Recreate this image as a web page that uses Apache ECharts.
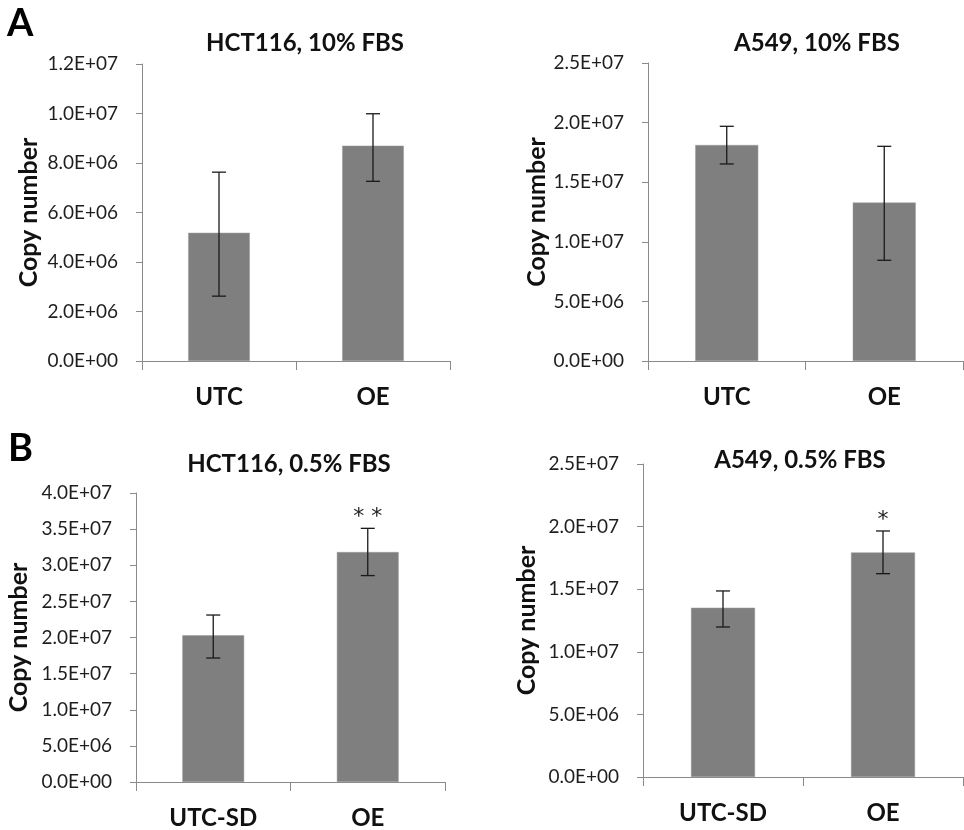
<!DOCTYPE html>
<html>
<head>
<meta charset="utf-8">
<script src="https://cdn.jsdelivr.net/npm/echarts@6/dist/echarts.min.js"></script>
<style>
html,body{margin:0;padding:0;background:#fff;}
#chart{width:964px;height:830px;}
</style>
</head>
<body>
<div id="chart"></div>
<script>
// ---- Data ----
const titles = ['HCT116, 10% FBS', 'A549, 10% FBS', 'HCT116, 0.5% FBS', 'A549, 0.5% FBS'];
const categoriesTop = ['UTC', 'OE'];
const categoriesBottom = ['UTC-SD', 'OE'];

const hct10Mean = [5.18e6, 8.70e6];
const hct10Low  = [2.62e6, 7.26e6];
const hct10High = [7.63e6, 9.99e6];
const hct10Sig  = ['', ''];

const a54910Mean = [1.812e7, 1.329e7];
const a54910Low  = [1.653e7, 8.45e6];
const a54910High = [1.969e7, 1.801e7];
const a54910Sig  = ['', ''];

const hct05Mean = [2.03e7, 3.183e7];
const hct05Low  = [1.716e7, 2.857e7];
const hct05High = [2.311e7, 3.511e7];
const hct05Sig  = ['', '**'];

const a54905Mean = [1.352e7, 1.794e7];
const a54905Low  = [1.198e7, 1.624e7];
const a54905High = [1.486e7, 1.965e7];
const a54905Sig  = ['', '*'];

const yMax = [1.2e7, 2.5e7, 4.0e7, 2.5e7];
const yStep = [2.0e6, 5.0e6, 5.0e6, 5.0e6];

// ---- Layout ----
const FONT = 'Lato';
const grids = [
  {left: 142, top: 64, width: 308, height: 297},
  {left: 648, top: 63, width: 315, height: 298},
  {left: 136, top: 493, width: 309, height: 289},
  {left: 643, top: 464, width: 320, height: 313}
];
const nameGaps = [101, 97, 105, 104];
const titlePos = [[300, 26], [812, 26], [284, 447], [795, 443]];

function fmtExp(v) {
  if (v === 0) return '0.0E+00';
  const e = Math.floor(Math.log10(Math.abs(v)) + 1e-9);
  const m = v / Math.pow(10, e);
  return m.toFixed(1) + 'E+' + String(e).padStart(2, '0');
}

const panels = [
  {cats: categoriesTop, mean: hct10Mean, low: hct10Low, high: hct10High, sig: hct10Sig},
  {cats: categoriesTop, mean: a54910Mean, low: a54910Low, high: a54910High, sig: a54910Sig},
  {cats: categoriesBottom, mean: hct05Mean, low: hct05Low, high: hct05High, sig: hct05Sig},
  {cats: categoriesBottom, mean: a54905Mean, low: a54905Low, high: a54905High, sig: a54905Sig}
];

const axisGray = '#8a8a8a';
const option = {
  backgroundColor: '#fff',
  animation: false,
  title: titles.map((t, i) => ({
    text: t,
    left: titlePos[i][0],
    top: titlePos[i][1],
    textAlign: 'center',
    textStyle: {fontFamily: FONT, fontWeight: 'bold', fontSize: 24, color: '#111'}
  })),
  graphic: [
    {type: 'text', left: 7, top: 5, style: {text: 'A', fontFamily: FONT, fontWeight: 'bold', fontSize: 38, fill: '#000'}},
    {type: 'text', left: 8, top: 430, style: {text: 'B', fontFamily: FONT, fontWeight: 'bold', fontSize: 38, fill: '#000'}}
  ],
  grid: grids,
  xAxis: panels.map((p, i) => ({
    type: 'category',
    gridIndex: i,
    data: p.cats,
    axisLine: {lineStyle: {color: axisGray, width: 1}},
    axisTick: {show: true, length: 9, lineStyle: {color: axisGray}},
    axisLabel: {fontFamily: FONT, fontWeight: 'bold', fontSize: 24, color: '#111', margin: 24}
  })),
  yAxis: panels.map((p, i) => ({
    type: 'value',
    gridIndex: i,
    min: 0,
    max: yMax[i],
    interval: yStep[i],
    name: 'Copy number',
    nameLocation: 'middle',
    nameGap: nameGaps[i],
    nameTextStyle: {fontFamily: FONT, fontWeight: 'bold', fontSize: 25, color: '#111'},
    splitLine: {show: false},
    axisLine: {show: true, lineStyle: {color: axisGray, width: 1}},
    axisTick: {show: true, length: 6, lineStyle: {color: axisGray}},
    axisLabel: {fontFamily: FONT, fontSize: 19, color: '#1e1e1e', margin: 24, formatter: fmtExp}
  })),
  series: []
};

panels.forEach((p, i) => {
  option.series.push({
    type: 'bar',
    xAxisIndex: i,
    yAxisIndex: i,
    data: p.mean,
    barWidth: '40%',
    itemStyle: {color: '#7f7f7f', borderColor: '#9a9a9a', borderWidth: 0.5}
  });
  option.series.push({
    type: 'custom',
    xAxisIndex: i,
    yAxisIndex: i,
    z: 10,
    data: p.mean.map((m, k) => [k, p.low[k], p.high[k]]),
    renderItem: function (params, api) {
      const k = api.value(0);
      const lo = api.coord([k, api.value(1)]);
      const hi = api.coord([k, api.value(2)]);
      const hw = 7;
      const st = {stroke: '#1a1a1a', lineWidth: 1.3};
      const children = [
        {type: 'line', shape: {x1: hi[0], y1: hi[1], x2: lo[0], y2: lo[1]}, style: st},
        {type: 'line', shape: {x1: hi[0] - hw, y1: hi[1], x2: hi[0] + hw, y2: hi[1]}, style: st},
        {type: 'line', shape: {x1: lo[0] - hw, y1: lo[1], x2: lo[0] + hw, y2: lo[1]}, style: st}
      ];
      const s = p.sig[params.dataIndex];
      if (s) {
        children.push({
          type: 'text',
          x: hi[0], y: hi[1] - 11,
          style: {text: s.split('').join(' '), fontFamily: 'DejaVu Sans', fontSize: 22, fill: '#222', align: 'center', verticalAlign: 'middle'}
        });
      }
      return {type: 'group', children: children};
    }
  });
});

const chart = echarts.init(document.getElementById('chart'), null, {renderer: 'canvas'});
chart.setOption(option);
</script>
</body>
</html>
